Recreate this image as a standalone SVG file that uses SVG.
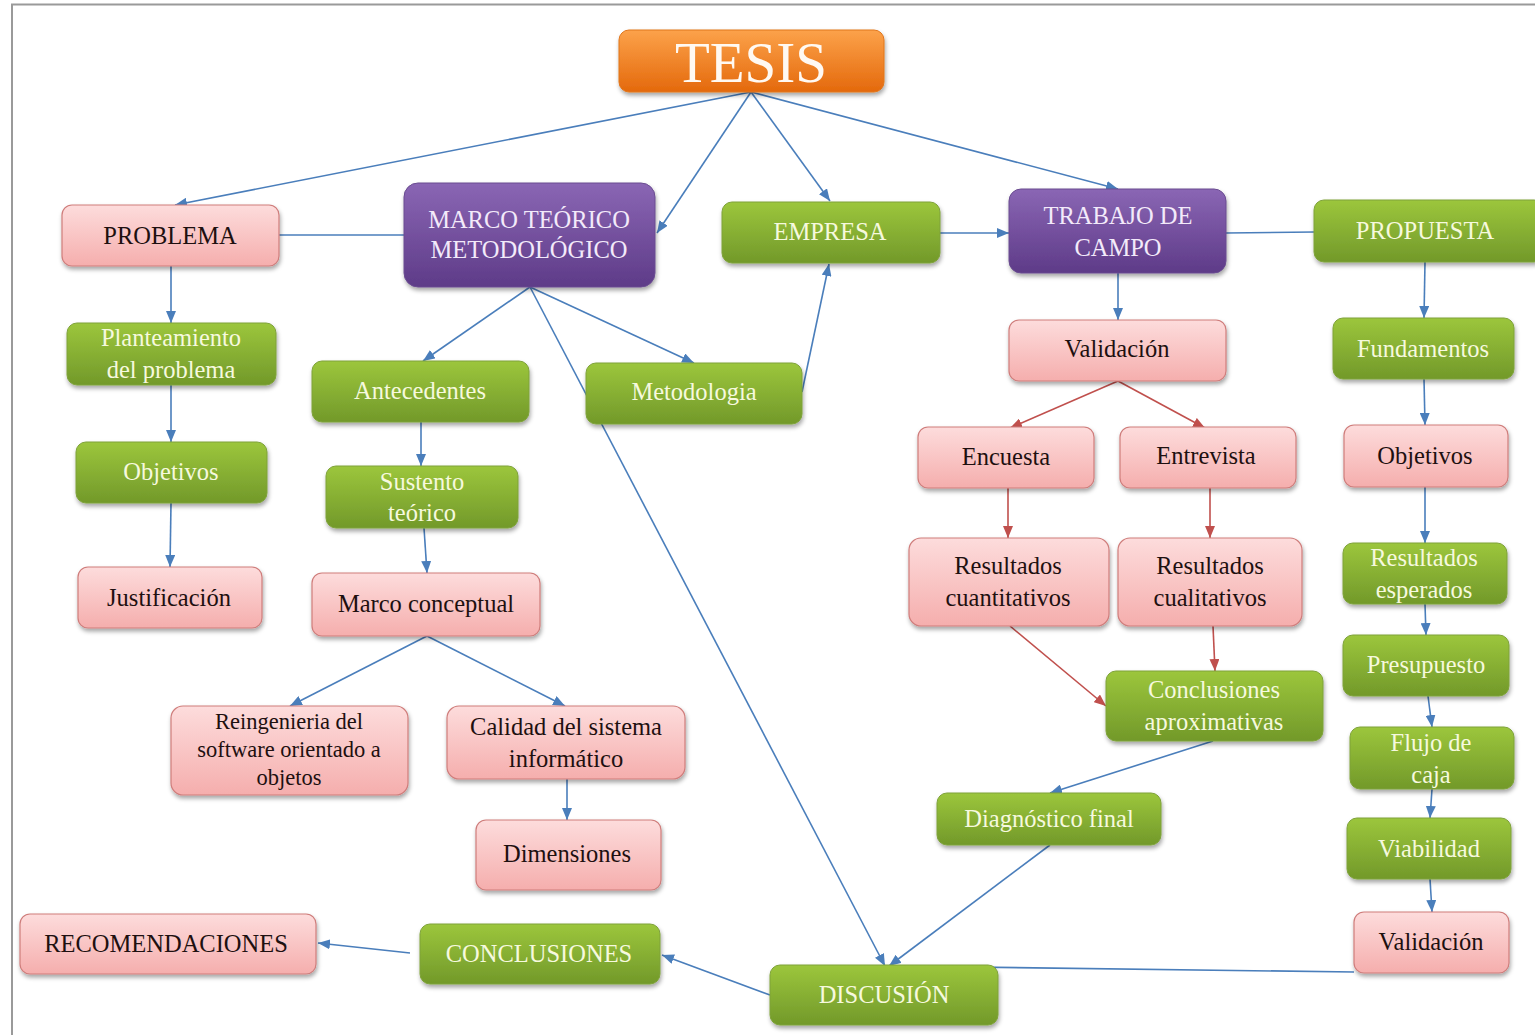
<svg xmlns="http://www.w3.org/2000/svg" width="1535" height="1035" viewBox="0 0 1535 1035">
  <defs>
    <linearGradient id="gPink" x1="0" y1="0" x2="0" y2="1">
      <stop offset="0" stop-color="#fddcdc"/>
      <stop offset="1" stop-color="#f5aead"/>
    </linearGradient>
    <linearGradient id="gGreen" x1="0" y1="0" x2="0" y2="1">
      <stop offset="0" stop-color="#9cc63c"/>
      <stop offset="1" stop-color="#72992a"/>
    </linearGradient>
    <linearGradient id="gPurple" x1="0" y1="0" x2="0" y2="1">
      <stop offset="0" stop-color="#8a66b4"/>
      <stop offset="1" stop-color="#5e3b88"/>
    </linearGradient>
    <linearGradient id="gOrange" x1="0" y1="0" x2="0" y2="1">
      <stop offset="0" stop-color="#fca24a"/>
      <stop offset="1" stop-color="#e4690c"/>
    </linearGradient>
    <filter id="shadow" x="-10%" y="-20%" width="120%" height="150%">
      <feDropShadow dx="1" dy="3" stdDeviation="2" flood-color="#000" flood-opacity="0.35"/>
    </filter>
    <marker id="aBlue" markerUnits="userSpaceOnUse" markerWidth="12" markerHeight="10" refX="12" refY="5" orient="auto">
      <path d="M0,0 L12,5 L0,10 z" fill="#4a7ebb"/>
    </marker>
    <marker id="aRed" markerUnits="userSpaceOnUse" markerWidth="12" markerHeight="10" refX="12" refY="5" orient="auto">
      <path d="M0,0 L12,5 L0,10 z" fill="#c0504d"/>
    </marker>
    <style>
      .node rect { filter: url(#shadow); }
      .pink rect { fill: url(#gPink); stroke: #cf7d7b; stroke-width: 1.2; }
      .green rect { fill: url(#gGreen); stroke: #7ea23a; stroke-width: 1; }
      .purple rect { fill: url(#gPurple); stroke: #6a4c90; stroke-width: 1; }
      .orange rect { fill: url(#gOrange); stroke: #e0761c; stroke-width: 1; }
      text { font-family: "Liberation Serif", "Times New Roman", serif; font-size: 24.5px; text-anchor: middle; }
      .pink text { fill: #1e1010; }
      .green text { fill: #f6f9de; }
      .purple text { fill: #f3eafa; }
      .orange text { fill: #fff9f2; font-size: 57px; }
      .pink text.small { font-size: 22.5px; }
      .links line { fill: none; stroke-width: 1.6; }
      .blue { stroke: #4a7ebb; }
      .red { stroke: #c0504d; }
    </style>
  </defs>

  <rect x="0" y="0" width="1535" height="1035" fill="#ffffff"/>
  <!-- page frame -->
  <path d="M12,1035 L12,4.5 L1535,4.5" fill="none" stroke="#9a9a9a" stroke-width="2"/>

  <!-- connectors -->
  <g class="links">
    <line class="blue" x1="751" y1="92" x2="175" y2="205" marker-end="url(#aBlue)"/>
    <line class="blue" x1="751" y1="92" x2="657" y2="233" marker-end="url(#aBlue)"/>
    <line class="blue" x1="751" y1="92" x2="830" y2="201" marker-end="url(#aBlue)"/>
    <line class="blue" x1="751" y1="92" x2="1118" y2="189" marker-end="url(#aBlue)"/>
    <line class="blue" x1="279" y1="235" x2="404" y2="235"/>
    <line class="blue" x1="171" y1="266" x2="171" y2="323" marker-end="url(#aBlue)"/>
    <line class="blue" x1="171" y1="385" x2="171" y2="442" marker-end="url(#aBlue)"/>
    <line class="blue" x1="171" y1="503" x2="170" y2="567" marker-end="url(#aBlue)"/>
    <line class="blue" x1="530" y1="287" x2="423" y2="361" marker-end="url(#aBlue)"/>
    <line class="blue" x1="530" y1="287" x2="694" y2="363" marker-end="url(#aBlue)"/>
    <line class="blue" x1="530" y1="287" x2="885" y2="966" marker-end="url(#aBlue)"/>
    <line class="blue" x1="802" y1="392" x2="829" y2="264" marker-end="url(#aBlue)"/>
    <line class="blue" x1="940" y1="233" x2="1009" y2="233" marker-end="url(#aBlue)"/>
    <line class="blue" x1="1226" y1="233" x2="1314" y2="232"/>
    <line class="blue" x1="1118" y1="273" x2="1118" y2="320" marker-end="url(#aBlue)"/>
    <line class="red" x1="1118" y1="381" x2="1010" y2="428" marker-end="url(#aRed)"/>
    <line class="red" x1="1118" y1="381" x2="1205" y2="428" marker-end="url(#aRed)"/>
    <line class="red" x1="1008" y1="488" x2="1008" y2="538" marker-end="url(#aRed)"/>
    <line class="red" x1="1210" y1="488" x2="1210" y2="538" marker-end="url(#aRed)"/>
    <line class="red" x1="1010" y1="626" x2="1106" y2="706" marker-end="url(#aRed)"/>
    <line class="red" x1="1213" y1="626" x2="1215" y2="671" marker-end="url(#aRed)"/>
    <line class="blue" x1="1213" y1="741" x2="1050" y2="793" marker-end="url(#aBlue)"/>
    <line class="blue" x1="1050" y1="845" x2="889" y2="966" marker-end="url(#aBlue)"/>
    <line class="blue" x1="421" y1="422" x2="421" y2="466" marker-end="url(#aBlue)"/>
    <line class="blue" x1="424" y1="528" x2="427" y2="573" marker-end="url(#aBlue)"/>
    <line class="blue" x1="427" y1="636" x2="290" y2="706" marker-end="url(#aBlue)"/>
    <line class="blue" x1="427" y1="636" x2="565" y2="706" marker-end="url(#aBlue)"/>
    <line class="blue" x1="567" y1="779" x2="567" y2="820" marker-end="url(#aBlue)"/>
    <line class="blue" x1="1425" y1="262" x2="1424" y2="318" marker-end="url(#aBlue)"/>
    <line class="blue" x1="1424" y1="379" x2="1425" y2="425" marker-end="url(#aBlue)"/>
    <line class="blue" x1="1425" y1="487" x2="1425" y2="543" marker-end="url(#aBlue)"/>
    <line class="blue" x1="1425" y1="604" x2="1426" y2="635" marker-end="url(#aBlue)"/>
    <line class="blue" x1="1428" y1="696" x2="1432" y2="727" marker-end="url(#aBlue)"/>
    <line class="blue" x1="1432" y1="789" x2="1430" y2="818" marker-end="url(#aBlue)"/>
    <line class="blue" x1="1430" y1="879" x2="1432" y2="912" marker-end="url(#aBlue)"/>
    <line class="blue" x1="1354" y1="972" x2="888" y2="966"/>
    <line class="blue" x1="770" y1="995" x2="662" y2="955" marker-end="url(#aBlue)"/>
    <line class="blue" x1="410" y1="953" x2="318" y2="943" marker-end="url(#aBlue)"/>
  </g>

  <!-- root -->
  <g id="tesis" class="node orange">
    <rect x="619" y="30" width="265" height="62" rx="10"/>
    <text x="751" y="82">TESIS</text>
  </g>

  <!-- main branches -->
  <g id="problema" class="node pink">
    <rect x="62" y="205" width="217" height="61" rx="10"/>
    <text x="170" y="244">PROBLEMA</text>
  </g>
  <g id="marco-teorico" class="node purple">
    <rect x="404" y="183" width="251" height="104" rx="14"/>
    <text x="529" y="228">MARCO TEÓRICO</text>
    <text x="529" y="258">METODOLÓGICO</text>
  </g>
  <g id="empresa" class="node green">
    <rect x="722" y="202" width="218" height="61" rx="10"/>
    <text x="830" y="240">EMPRESA</text>
  </g>
  <g id="trabajo-campo" class="node purple">
    <rect x="1009" y="189" width="217" height="84" rx="12"/>
    <text x="1118" y="224">TRABAJO  DE</text>
    <text x="1118" y="256">CAMPO</text>
  </g>
  <g id="propuesta" class="node green">
    <rect x="1314" y="200" width="230" height="62" rx="10"/>
    <text x="1425" y="239">PROPUESTA</text>
  </g>

  <!-- problema branch -->
  <g id="planteamiento" class="node green">
    <rect x="67" y="323" width="209" height="62" rx="10"/>
    <text x="171" y="346">Planteamiento</text>
    <text x="171" y="378">del  problema</text>
  </g>
  <g id="objetivos-1" class="node green">
    <rect x="76" y="442" width="191" height="61" rx="10"/>
    <text x="171" y="480">Objetivos</text>
  </g>
  <g id="justificacion" class="node pink">
    <rect x="78" y="567" width="184" height="61" rx="10"/>
    <text x="169" y="606">Justificación</text>
  </g>

  <!-- marco teorico branch -->
  <g id="antecedentes" class="node green">
    <rect x="312" y="361" width="217" height="61" rx="10"/>
    <text x="420" y="399">Antecedentes</text>
  </g>
  <g id="sustento" class="node green">
    <rect x="326" y="466" width="192" height="62" rx="10"/>
    <text x="422" y="490">Sustento</text>
    <text x="422" y="521">teórico</text>
  </g>
  <g id="marco-conceptual" class="node pink">
    <rect x="312" y="573" width="228" height="63" rx="10"/>
    <text x="426" y="612">Marco conceptual</text>
  </g>
  <g id="metodologia" class="node green">
    <rect x="586" y="363" width="216" height="61" rx="10"/>
    <text x="694" y="400">Metodologia</text>
  </g>
  <g id="reingenieria" class="node pink">
    <rect x="171" y="706" width="237" height="89" rx="12"/>
    <text class="small" x="289" y="729">Reingenieria del</text>
    <text class="small" x="289" y="757">software orientado a</text>
    <text class="small" x="289" y="785">objetos</text>
  </g>
  <g id="calidad" class="node pink">
    <rect x="447" y="706" width="238" height="73" rx="12"/>
    <text x="566" y="735">Calidad  del  sistema</text>
    <text x="566" y="767">informático</text>
  </g>
  <g id="dimensiones" class="node pink">
    <rect x="476" y="820" width="185" height="70" rx="10"/>
    <text x="567" y="862">Dimensiones</text>
  </g>

  <!-- trabajo de campo branch -->
  <g id="validacion-1" class="node pink">
    <rect x="1009" y="320" width="217" height="61" rx="10"/>
    <text x="1117" y="357">Validación</text>
  </g>
  <g id="encuesta" class="node pink">
    <rect x="918" y="427" width="176" height="61" rx="10"/>
    <text x="1006" y="465">Encuesta</text>
  </g>
  <g id="entrevista" class="node pink">
    <rect x="1120" y="427" width="176" height="61" rx="10"/>
    <text x="1206" y="464">Entrevista</text>
  </g>
  <g id="res-cuantitativos" class="node pink">
    <rect x="909" y="538" width="200" height="88" rx="12"/>
    <text x="1008" y="574">Resultados</text>
    <text x="1008" y="606">cuantitativos</text>
  </g>
  <g id="res-cualitativos" class="node pink">
    <rect x="1118" y="538" width="184" height="88" rx="12"/>
    <text x="1210" y="574">Resultados</text>
    <text x="1210" y="606">cualitativos</text>
  </g>
  <g id="conclusiones-aprox" class="node green">
    <rect x="1106" y="671" width="217" height="70" rx="10"/>
    <text x="1214" y="698">Conclusiones</text>
    <text x="1214" y="730">aproximativas</text>
  </g>
  <g id="diagnostico" class="node green">
    <rect x="937" y="793" width="224" height="52" rx="10"/>
    <text x="1049" y="827">Diagnóstico  final</text>
  </g>

  <!-- propuesta branch -->
  <g id="fundamentos" class="node green">
    <rect x="1333" y="318" width="181" height="61" rx="10"/>
    <text x="1423" y="357">Fundamentos</text>
  </g>
  <g id="objetivos-2" class="node pink">
    <rect x="1344" y="425" width="164" height="62" rx="10"/>
    <text x="1425" y="464">Objetivos</text>
  </g>
  <g id="res-esperados" class="node green">
    <rect x="1343" y="543" width="164" height="61" rx="10"/>
    <text x="1424" y="566">Resultados</text>
    <text x="1424" y="598">esperados</text>
  </g>
  <g id="presupuesto" class="node green">
    <rect x="1343" y="635" width="166" height="61" rx="10"/>
    <text x="1426" y="673">Presupuesto</text>
  </g>
  <g id="flujo-caja" class="node green">
    <rect x="1350" y="727" width="164" height="62" rx="10"/>
    <text x="1431" y="751">Flujo  de</text>
    <text x="1431" y="783">caja</text>
  </g>
  <g id="viabilidad" class="node green">
    <rect x="1347" y="818" width="164" height="61" rx="10"/>
    <text x="1429" y="857">Viabilidad</text>
  </g>
  <g id="validacion-2" class="node pink">
    <rect x="1354" y="912" width="155" height="61" rx="10"/>
    <text x="1431" y="950">Validación</text>
  </g>

  <!-- closing -->
  <g id="discusion" class="node green">
    <rect x="770" y="965" width="228" height="60" rx="10"/>
    <text x="884" y="1003">DISCUSIÓN</text>
  </g>
  <g id="conclusiones" class="node green">
    <rect x="420" y="924" width="240" height="60" rx="10"/>
    <text x="539" y="962">CONCLUSIONES</text>
  </g>
  <g id="recomendaciones" class="node pink">
    <rect x="20" y="914" width="296" height="60" rx="10"/>
    <text x="166" y="952">RECOMENDACIONES</text>
  </g>
</svg>
